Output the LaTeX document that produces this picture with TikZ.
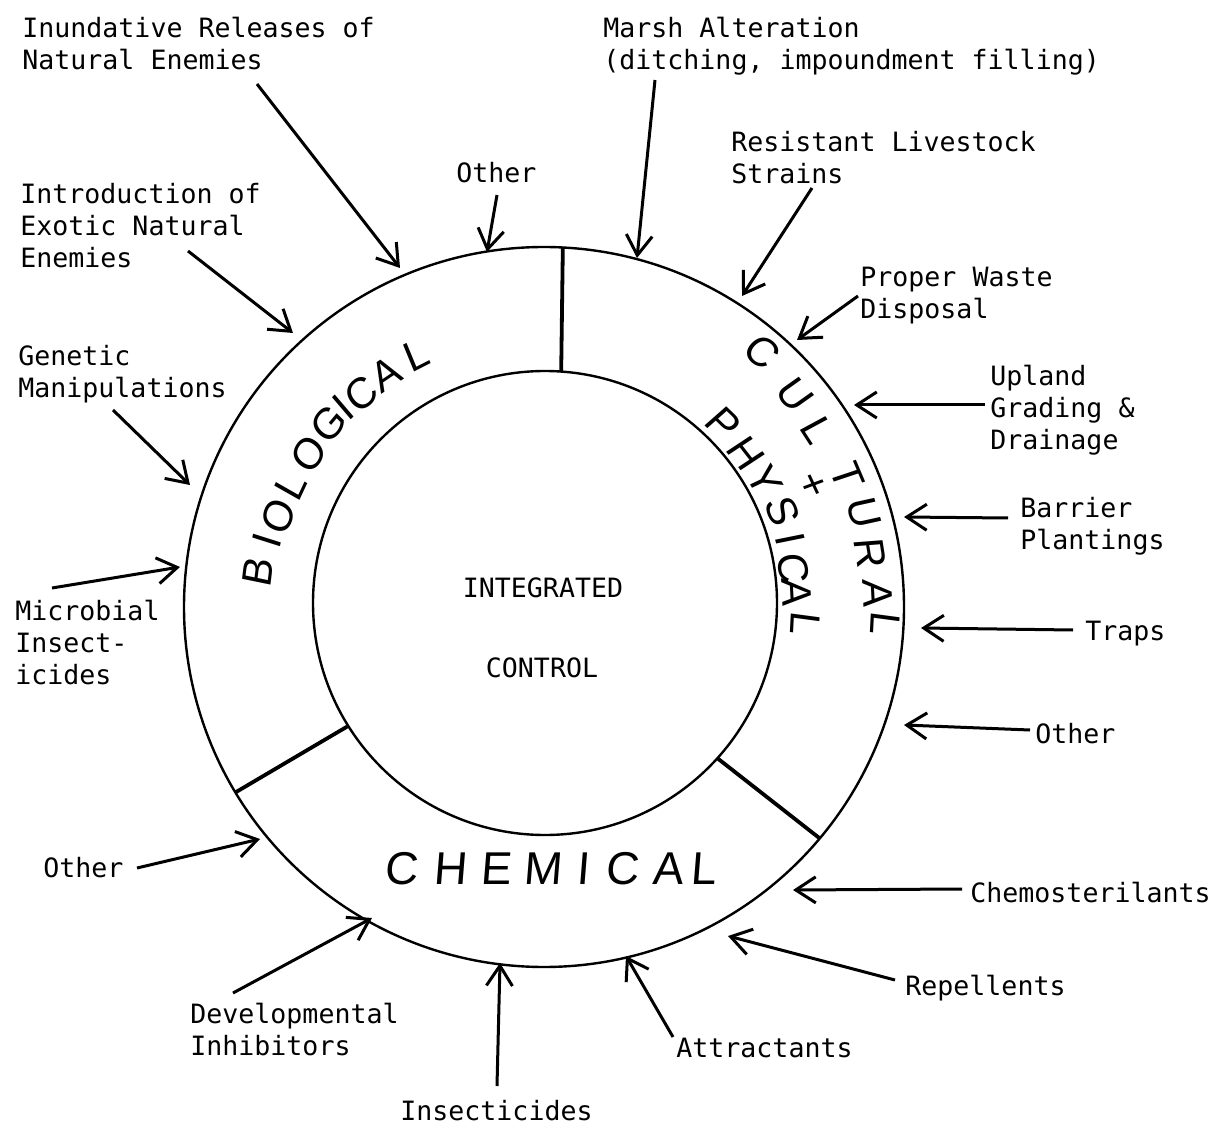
\documentclass[tikz,border=0pt]{standalone}
\usepackage{fontspec}
\usetikzlibrary{arrows.meta}
\newfontfamily\typed{DejaVu Sans Mono}
\newfontfamily\hand{Liberation Sans}[FakeSlant=0.08]
\begin{document}
\begin{tikzpicture}[x=0.5pt,y=-0.5pt,
  lab/.style={anchor=north west, inner sep=0pt, align=left,
    font=\typed\fontsize{13.3}{16}\selectfont},
  core/.style={inner sep=0pt, font=\typed\fontsize{13.3}{16}\selectfont},
  feed/.style={line width=1.5pt, -{Straight Barb[length=10pt,width=13pt]}},
  ringline/.style={circle, draw, line width=1.2pt, inner sep=0pt, outer sep=0pt},
  divider/.style={line width=1.9pt},
  letter/.style={inner sep=0pt, font=\hand\fontsize{21}{24}\selectfont},
  bigletter/.style={inner sep=0pt, font=\hand\fontsize{23}{26}\selectfont},
]
\useasboundingbox[fill=white] (0,0) rectangle (1221,1128);

% the two rings
\node[ringline, minimum size=360pt] (outer) at (544,607) {};
\node[ringline, minimum size=232pt] (inner) at (545,603) {};

% sector boundaries
\draw[divider] (outer.87)  -- (inner.86);
\draw[divider] (outer.211) -- (inner.212);
\draw[divider] (outer.320) -- (inner.318);

% centre
\node[core] (integ) at (543,588) {INTEGRATED};
\node[core] (ctrl)  at (542,668) {CONTROL};

% sector names
\foreach \ch/\px/\py/\rot [count=\i] in
  {B/258/573/83, I/267/542/77, O/278/517/71, L/290/487/65, O/308/455/57,
   G/328/425/50, I/342/408/45, C/360/395/41, A/385/375/34, L/415/355/27}
  \node[letter, rotate=\rot] (bio\i) at (\px,\py) {\ch};
\foreach \ch/\px/\py/\rot [count=\i] in
  {C/761/351/-40, U/794/394/-50, L/817/429/-57, T/847/475/-67,
   U/864/512/-73, R/870/552/-81, A/878/593/-87, L/885/623/-93}
  \node[letter, rotate=\rot] (cul\i) at (\px,\py) {\ch};
\node[letter, rotate=-65] (plus) at (812,484) {+};
\foreach \ch/\px/\py/\rot [count=\i] in
  {P/723/423/-44, H/745/453/-52, Y/764/479/-60, S/782/510/-68,
   I/790/538/-74, C/793/567/-81, A/797/592/-87, L/805/623/-93}
  \node[letter, rotate=\rot] (phy\i) at (\px,\py) {\ch};
\foreach \ch/\px [count=\i] in
  {C/401, H/450, E/496, M/543, I/583, C/622, A/668, L/703}
  \node[bigletter] (chem\i) at (\px,869) {\ch};

% labels
\node[lab] (inund)    at (22,17)    {Inundative Releases of\\Natural Enemies};
\node[lab] (othtop)   at (456,162)  {Other};
\node[lab] (marsh)    at (603,17)   {Marsh Alteration\\(ditching, impoundment filling)};
\node[lab] (resist)   at (731,131)  {Resistant Livestock\\Strains};
\node[lab] (waste)    at (860,267)  {Proper Waste\\Disposal};
\node[lab] (upland)   at (990,365)  {Upland\\Grading \&\\Drainage};
\node[lab] (barrier)  at (1020,497) {Barrier\\Plantings};
\node[lab] (traps)    at (1085,621) {Traps};
\node[lab] (othright) at (1035,723) {Other};
\node[lab] (chemo)    at (970,882)  {Chemosterilants};
\node[lab] (repel)    at (905,975)  {Repellents};
\node[lab] (attract)  at (676,1038) {Attractants};
\node[lab] (insect)   at (400,1100) {Insecticides};
\node[lab] (devel)    at (190,1003) {Developmental\\Inhibitors};
\node[lab] (othleft)  at (43,857)   {Other};
\node[lab] (microb)   at (15,600)   {Microbial\\Insect-\\icides};
\node[lab] (genetic)  at (18,345)   {Genetic\\Manipulations};
\node[lab] (intro)    at (20,183)   {Introduction of\\Exotic Natural\\Enemies};

% arrow ends
\foreach \n/\sx/\sy/\tx/\ty in
  {inund/257/84/400/268, othtop/497/195/487/252, marsh/655/80/637/258,
   resist/812/188/742/296, waste/858/296/797/340, upland/985/405/854/405,
   barrier/1008/518/904/517, traps/1073/630/921/628, othright/1030/730/904/725,
   chemo/962/889/793/890, repel/895/980/728/936, attract/673/1037/626/956,
   insect/497/1086/500/963, devel/233/993/372/918, othleft/137/868/260/839,
   microb/52/588/180/567, genetic/113/410/190/485, intro/188/251/293/333}
{
  \coordinate (\n-from) at (\sx,\sy);
  \coordinate (\n-to) at (\tx,\ty);
  \draw[feed] (\n-from) -- (\n-to);
}
\end{tikzpicture}
\end{document}
